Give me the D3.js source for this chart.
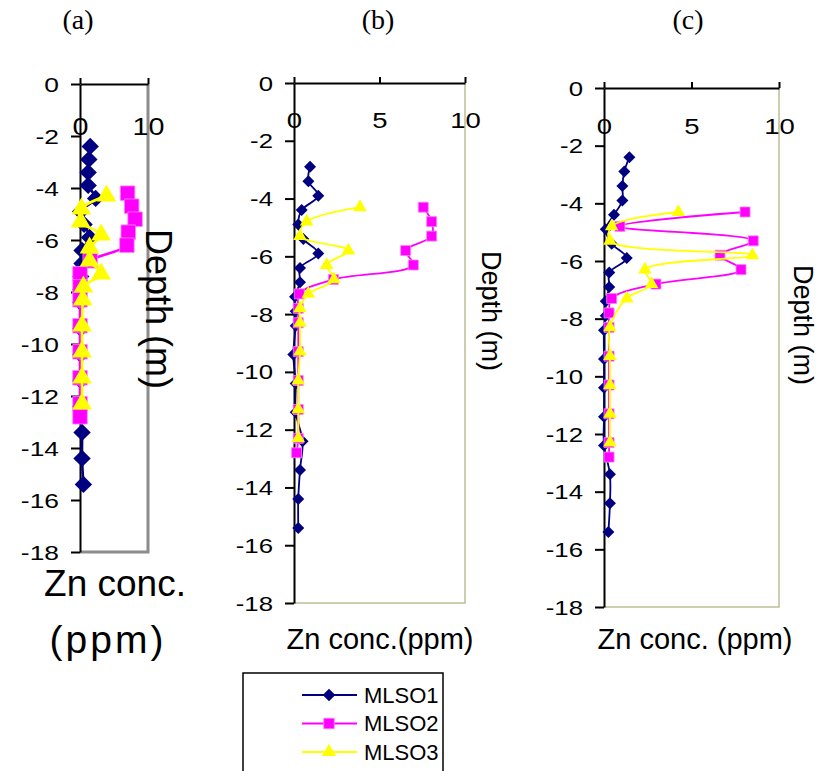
<!DOCTYPE html>
<html><head><meta charset="utf-8">
<script src="https://cdn.jsdelivr.net/npm/d3@7"></script>
<style>body{margin:0;background:#fff}svg{display:block}</style>
</head><body>
<svg id="c" width="825" height="771"></svg>
<script>
// ---------- DATA ----------
const seriesNames = ["MLSO1", "MLSO2", "MLSO3"];
const panelLabels = ["(a)", "(b)", "(c)"];
const yTicks = [0, -2, -4, -6, -8, -10, -12, -14, -16, -18];
const xTicksA = [0, 10];
const xTicksBC = [0, 5, 10];
const xTitleA = ["Zn conc.", "(ppm)"];
const xTitleB = "Zn conc.(ppm)";
const xTitleC = "Zn conc. (ppm)";
const yTitle = "Depth (m)";

// panel (a)
const a1Depth = [-2.4,-2.9,-3.4,-3.9,-4.4,-4.9,-5.4,-5.9,-6.4,-6.9,-7.4,-7.9,-8.4,-9.4,-10.4,-11.4,-12.4,-13.4,-14.4,-15.4];
const a1Zn    = [1.5,1.3,1.2,1.2,2.3,0.1,0.6,1.4,0.3,0.3,0.1,0.1,0.1,0.1,0.1,0.1,0.1,0.3,0.3,0.5];
const a2Depth = [-4.2,-4.7,-5.2,-5.7,-6.2,-6.8,-7.3,-7.8,-8.3,-9.3,-10.3,-11.3,-12.3,-12.8];
const a2Zn    = [7.0,7.6,8.1,7.1,6.9,1.5,0.0,0.0,0.0,0.0,0.0,0.0,0.0,0.0];
const a3Depth = [-4.3,-4.8,-5.3,-5.8,-6.3,-6.8,-7.3,-7.8,-8.3,-9.3,-10.3,-11.3,-12.3];
const a3Zn    = [3.9,0.2,0.1,3.1,1.4,1.4,3.1,0.5,0.4,0.3,0.3,0.3,0.3];

// panel (b)
const b1Depth = [-2.9,-3.4,-3.9,-4.4,-4.9,-5.4,-5.9,-6.4,-6.9,-7.4,-7.9,-8.4,-9.4,-10.4,-11.4,-12.4,-13.4,-14.4,-15.4];
const b1Zn    = [0.94,0.84,1.42,0.45,0.25,0.55,1.42,0.35,0.35,0.06,0.1,0.1,-0.04,0.1,0.1,0.5,0.35,0.25,0.25];
const b2Depth = [-4.3,-4.8,-5.3,-5.8,-6.3,-6.8,-7.3,-7.8,-8.3,-9.3,-10.3,-11.3,-12.3,-12.8];
const b2Zn    = [7.56,8.05,8.05,6.53,6.98,2.3,0.31,0.25,0.25,0.25,0.25,0.25,0.25,0.15];
const b3Depth = [-4.3,-4.8,-5.3,-5.8,-6.3,-6.8,-7.3,-7.8,-8.3,-9.3,-10.3,-11.3,-12.3];
const b3Zn    = [3.86,0.74,0.35,3.18,1.91,2.34,0.84,0.35,0.35,0.35,0.25,0.25,0.25];

// panel (c)
const c1Depth = [-2.4,-2.9,-3.4,-3.9,-4.4,-4.9,-5.4,-5.9,-6.4,-6.9,-7.4,-7.9,-8.4,-9.4,-10.4,-11.4,-12.4,-13.4,-14.4,-15.4];
const c1Zn    = [1.45,1.16,1.05,1.05,0.57,0.1,0.44,1.3,0.3,0.3,0.1,0.1,0,0,0,0,0,0.34,0.34,0.25];
const c2Depth = [-4.3,-4.8,-5.3,-5.8,-6.3,-6.8,-7.3,-7.8,-8.3,-9.3,-10.3,-11.3,-12.3,-12.8];
const c2Zn    = [8.06,0.91,8.53,6.63,7.83,2.97,0.44,0.29,0.29,0.29,0.29,0.29,0.29,0.29];
const c3Depth = [-4.3,-4.8,-5.3,-5.8,-6.3,-6.8,-7.3,-8.3,-9.3,-10.3,-11.3,-12.3];
const c3Zn    = [4.25,0.44,0.34,8.48,2.34,2.72,1.3,0.34,0.34,0.34,0.34,0.34];

// ---------- STYLE / LAYOUT ----------
const colors = ["#000080", "#FF00FF", "#FFFF00"];
const FONT = "Arial, 'Liberation Sans', sans-serif";

const panels = [
  {label:panelLabels[0], labelX:78, left:80, right:148, top:84, bottom:552, xTicks:xTicksA, xLabY:127,
   yFont:20, xFont:23, yPad:12, border:"#8c8c8c", borderW:3, markScale:1.45, lineW:2.6,
   series:[[a1Depth,a1Zn],[a2Depth,a2Zn],[a3Depth,a3Zn]]},
  {label:panelLabels[1], labelX:378, left:294, right:465, top:83, bottom:603, xTicks:xTicksBC, xLabY:120,
   yFont:19.5, xFont:22, yPad:12, border:"#bdbd96", borderW:1.5, markScale:1, lineW:1.8,
   series:[[b1Depth,b1Zn],[b2Depth,b2Zn],[b3Depth,b3Zn]]},
  {label:panelLabels[2], labelX:688, left:604, right:779, top:88, bottom:607, xTicks:xTicksBC, xLabY:126,
   yFont:19.5, xFont:22, yPad:12, border:"#bdbd96", borderW:1.5, markScale:1, lineW:1.8,
   series:[[c1Depth,c1Zn],[c2Depth,c2Zn],[c3Depth,c3Zn]]}
];

const svg = d3.select("#c");

function drawMarker(g, i, x, y, s) {
  let p;
  if (i === 0) {
    p = g.append("path").attr("d", d3.symbol().type(d3.symbolSquare).size(72 * s * s)())
      .attr("transform", `translate(${x},${y}) rotate(45)`);
  } else if (i === 1) {
    p = g.append("path").attr("d", d3.symbol().type(d3.symbolSquare).size(100 * s * s)())
      .attr("transform", `translate(${x},${y})`)
      .attr("stroke", "#ff80ff").attr("stroke-width", 0.8);
  } else {
    p = g.append("path").attr("d", d3.symbol().type(d3.symbolTriangle).size(80 * s * s)())
      .attr("transform", `translate(${x},${y})`);
  }
  p.attr("fill", colors[i]);
  return p;
}

panels.forEach((P, pi) => {
  const x = d3.scaleLinear().domain([0, 10]).range([P.left, P.right]);
  const y = d3.scaleLinear().domain([0, -18]).range([P.top, P.bottom]);
  const g = svg.append("g");

  // title
  svg.append("text").attr("x", P.labelX).attr("y", 29).attr("text-anchor", "middle")
    .attr("font-family", "'Liberation Serif', 'Times New Roman', serif").attr("font-size", 28).text(P.label);

  // right & bottom border
  g.append("path")
    .attr("d", `M${x(10)},${y(0)}V${y(-18)}H${x(0)}`)
    .attr("fill", "none").attr("stroke", P.border).attr("stroke-width", P.borderW);

  // top axis (x)
  const xa = g.append("g").attr("transform", `translate(0,${y(0)})`)
    .call(d3.axisTop(x).tickValues(P.xTicks).tickSize(6).tickSizeOuter(0).tickFormat(d3.format("d")));
  xa.select(".domain").attr("stroke", "#000").attr("stroke-width", 2);
  xa.selectAll(".tick line").attr("stroke", "#000").attr("stroke-width", 2);
  xa.selectAll(".tick text").attr("x", 0).attr("y", 0).attr("dy", "0.36em")
    .attr("transform", `translate(0,${P.xLabY - y(0)}) scale(1.25,1)`)
    .attr("font-family", FONT).attr("font-size", P.xFont).attr("fill", "#000");

  // left axis (y)
  const ya = g.append("g").attr("transform", `translate(${x(0)},0)`)
    .call(d3.axisLeft(y).tickValues(yTicks).tickSize(9).tickSizeOuter(0).tickFormat(d3.format("d")));
  ya.select(".domain").attr("stroke", "#000").attr("stroke-width", 2);
  ya.selectAll(".tick line").attr("stroke", "#000").attr("stroke-width", 2);
  ya.selectAll(".tick text").attr("x", 0).attr("dy", "0.36em")
    .attr("transform", `translate(${-(9 + P.yPad)},0) scale(1.32,1)`)
    .attr("font-family", FONT).attr("font-size", P.yFont).attr("fill", "#000")
    .text(d => d < 0 ? "-" + Math.abs(d) : d);

  // series
  const line = d3.line().curve(d3.curveCatmullRom.alpha(0.5)).x(d => x(d[1])).y(d => y(d[0]));
  P.series.forEach((s, si) => {
    const pts = s[0].map((dep, k) => [dep, s[1][k]]);
    g.append("path").datum(pts).attr("d", line).attr("fill", "none")
      .attr("stroke", colors[si]).attr("stroke-width", P.lineW);
    const mg = g.append("g");
    pts.forEach(p => drawMarker(mg, si, x(p[1]), y(p[0]), P.markScale));
  });

  // axis titles
  if (pi === 0) {
    svg.append("text").attr("x", 115).attr("y", 596).attr("text-anchor", "middle")
      .attr("font-family", FONT).attr("font-size", 37).text(xTitleA[0]);
    svg.append("text").attr("x", 108).attr("y", 653).attr("text-anchor", "middle")
      .attr("font-family", FONT).attr("font-size", 39).attr("letter-spacing", 3).text(xTitleA[1]);
    svg.append("text").attr("transform", "translate(146,309) rotate(90)").attr("text-anchor", "middle")
      .attr("font-family", FONT).attr("font-size", 36).text(yTitle);
  } else {
    svg.append("text").attr("x", pi === 1 ? 380 : 695).attr("y", 649).attr("text-anchor", "middle")
      .attr("font-family", FONT).attr("font-size", 29).text(pi === 1 ? xTitleB : xTitleC);
    const tx = pi === 1 ? 482 : 794, ty = pi === 1 ? 311 : 325;
    svg.append("text").attr("transform", `translate(${tx},${ty}) rotate(90)`).attr("text-anchor", "middle")
      .attr("font-family", FONT).attr("font-size", 27).text(yTitle);
  }
});

// legend
const lg = svg.append("g");
lg.append("rect").attr("x", 243).attr("y", 673).attr("width", 200).attr("height", 120)
  .attr("fill", "#fff").attr("stroke", "#000").attr("stroke-width", 1.5);
seriesNames.forEach((n, i) => {
  const yy = 695 + i * 28.5;
  lg.append("line").attr("x1", 302).attr("x2", 357).attr("y1", yy).attr("y2", yy)
    .attr("stroke", colors[i]).attr("stroke-width", 1.8);
  drawMarker(lg, i, 329, yy, 1.05);
  lg.append("text").attr("x", 364).attr("y", yy).attr("dy", "0.36em")
    .attr("font-family", FONT).attr("font-size", 22).text(n);
});
</script>
</body></html>
